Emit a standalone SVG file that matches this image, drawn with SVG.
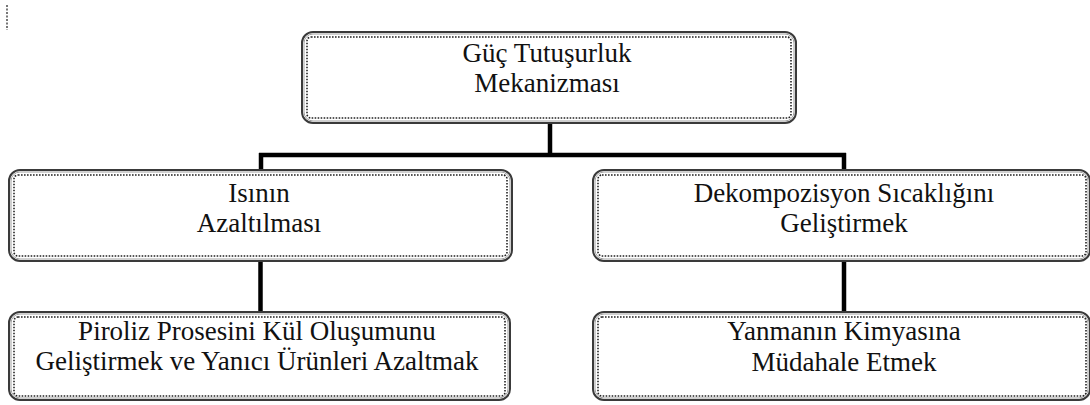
<svg xmlns="http://www.w3.org/2000/svg" width="1090" height="405" viewBox="0 0 1090 405">
<style>
.outer{fill:none;stroke:#3a3a3a;stroke-width:2}
.shade{fill:none;stroke:#a0a0a0;stroke-width:1}
.inner{fill:none;stroke:#222;stroke-width:1.6;stroke-dasharray:1.6 1.4}
text{font-family:'Liberation Serif','Times New Roman',Times,serif;font-size:27px;fill:#111;text-anchor:middle}
.conn{stroke:#000;stroke-width:4.5;fill:none}
</style>
<rect width="1090" height="405" fill="#fff"/>
<line x1="7" y1="5" x2="7" y2="30" stroke="#777" stroke-width="2" stroke-dasharray="2 1.5"/>
<g id="connectors">
<line class="conn" x1="550" y1="123" x2="550" y2="157"/>
<line class="conn" x1="259" y1="155" x2="846" y2="155"/>
<line class="conn" x1="261" y1="153" x2="261" y2="170"/>
<line class="conn" x1="844" y1="153" x2="844" y2="170"/>
<line class="conn" x1="260.5" y1="260" x2="260.5" y2="312"/>
<line class="conn" x1="844" y1="260" x2="844" y2="312"/>
</g>
<g id="n-top">
<rect class="outer" x="302" y="32" width="494" height="91" rx="11"/>
<rect class="shade" x="304" y="34" width="490" height="87" rx="9"/>
<rect class="inner" x="307" y="37" width="484" height="81" rx="4"/>
<text x="547" y="62">Güç Tutuşurluk</text>
<text x="547" y="92">Mekanizması</text>
</g>
<g id="n-left">
<rect class="outer" x="9" y="170" width="503" height="91" rx="11"/>
<rect class="shade" x="11" y="172" width="499" height="87" rx="9"/>
<rect class="inner" x="14" y="175" width="493" height="81" rx="4"/>
<text x="259" y="202">Isının</text>
<text x="259" y="232">Azaltılması</text>
</g>
<g id="n-right">
<rect class="outer" x="593" y="170" width="497" height="91" rx="11"/>
<rect class="shade" x="595" y="172" width="493" height="87" rx="9"/>
<rect class="inner" x="598" y="175" width="488" height="81" rx="4"/>
<text x="844" y="202">Dekompozisyon Sıcaklığını</text>
<text x="844" y="232">Geliştirmek</text>
</g>
<g id="n-bl">
<rect class="outer" x="9" y="312" width="501" height="88" rx="11"/>
<rect class="shade" x="11" y="314" width="497" height="84" rx="9"/>
<rect class="inner" x="14" y="317" width="491" height="79" rx="4"/>
<text x="257" y="340">Piroliz Prosesini Kül Oluşumunu</text>
<text x="257" y="370">Geliştirmek ve Yanıcı Ürünleri Azaltmak</text>
</g>
<g id="n-br">
<rect class="outer" x="593" y="312" width="497" height="88" rx="11"/>
<rect class="shade" x="595" y="314" width="493" height="84" rx="9"/>
<rect class="inner" x="598" y="317" width="488" height="79" rx="4"/>
<text x="844" y="340">Yanmanın Kimyasına</text>
<text x="844" y="371">Müdahale Etmek</text>
</g>
</svg>
